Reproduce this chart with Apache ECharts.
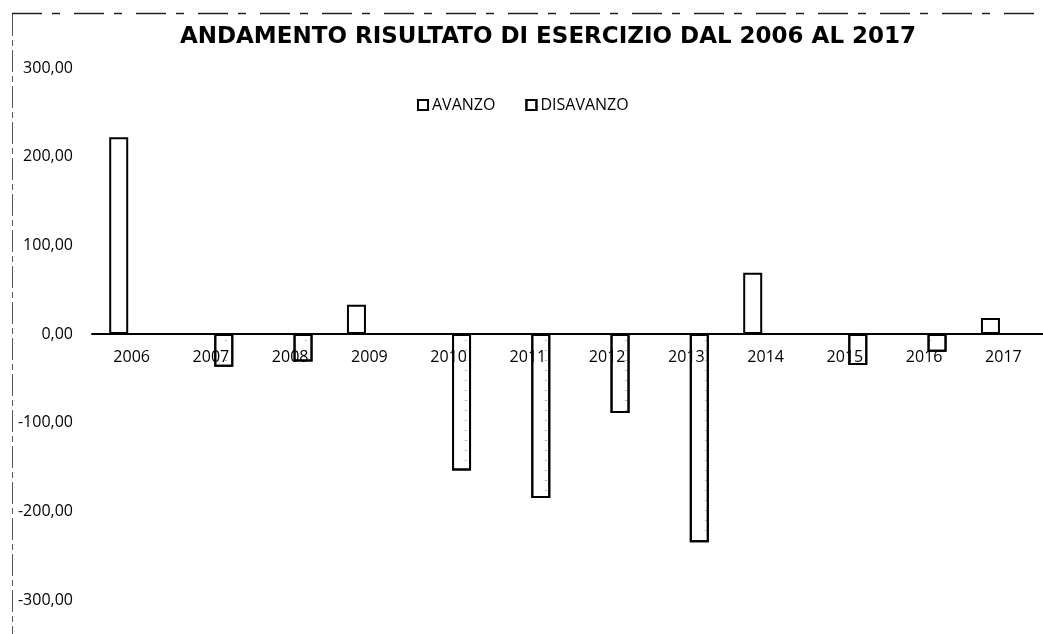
<!DOCTYPE html>
<html>
<head>
<meta charset="utf-8">
<style>
  html, body { margin: 0; padding: 0; background: #fff; }
  #chart { width: 1043px; height: 634px; }
</style>
<script src="https://cdn.jsdelivr.net/npm/echarts@6/dist/echarts.min.js"></script>
</head>
<body>
<div id="chart"></div>
<script>
const titleText = 'ANDAMENTO RISULTATO DI ESERCIZIO DAL 2006 AL 2017';
const categories = ['2006', '2007', '2008', '2009', '2010', '2011', '2012', '2013', '2014', '2015', '2016', '2017'];
const avanzo = [222, null, null, 33, null, null, null, null, 69, null, null, 18];
const disavanzo = [null, -37, -31, null, -154, -185, -89, -235, null, -35, -20, null];
const seriesNames = ['AVANZO', 'DISAVANZO'];
const yMin = -300, yMax = 300, yStep = 100;

const FONT = '"Open Sans", "Liberation Sans", sans-serif';
const GRID = { left: 92, right: -14, top: 68, bottom: 34 };
const gridH = 634 - GRID.top - GRID.bottom;
const zeroOffset = -gridH * (0 - yMin) / (yMax - yMin);

const chart = echarts.init(document.getElementById('chart'), null, { renderer: 'canvas' });

chart.setOption({
  backgroundColor: '#ffffff',
  animation: false,
  title: {
    text: titleText,
    left: 543,
    textAlign: 'center',
    top: 21,
    textStyle: { fontFamily: '"DejaVu Sans", sans-serif', fontSize: 23, fontWeight: 'bold', color: '#000' }
  },
  legend: {
    left: 412,
    top: 92,
    itemWidth: 10,
    itemHeight: 10,
    itemGap: 30,
    icon: 'rect',
    textStyle: { fontFamily: FONT, fontSize: 16, color: '#000', padding: [0, 0, 0, -1] },
    data: seriesNames
  },
  grid: Object.assign({ containLabel: false }, GRID),
  xAxis: {
    type: 'category',
    data: categories,
    offset: zeroOffset,
    axisLine: { onZero: false, lineStyle: { color: '#000', width: 2 } },
    axisTick: { show: false },
    axisLabel: { color: '#000', fontFamily: FONT, fontSize: 16, margin: 15 },
    splitLine: { show: false },
    z: 5
  },
  yAxis: {
    type: 'value',
    min: yMin,
    max: yMax,
    interval: yStep,
    axisLine: { show: false },
    axisTick: { show: false },
    splitLine: { show: false },
    axisLabel: {
      color: '#000', fontFamily: FONT, fontSize: 16, margin: 19,
      formatter: v => v.toFixed(2).replace('.', ',')
    }
  },
  series: [
    {
      name: seriesNames[0],
      type: 'bar',
      data: avanzo,
      barWidth: 19,
      barGap: '36%',
      z: 3,
      itemStyle: { color: '#ffffff', borderColor: '#000', borderWidth: 2 }
    },
    {
      name: seriesNames[1],
      type: 'bar',
      data: disavanzo,
      barWidth: 19,
      barGap: '36%',
      z: 3,
      itemStyle: {
        color: '#ffffff', borderColor: '#000', borderWidth: 2,
        decal: {
          symbol: 'rect', symbolSize: 0.6, dashArrayX: [[4, 12]], dashArrayY: [1, 9],
          rotation: 0, color: 'rgba(0,0,0,0.45)'
        }
      }
    }
  ],
  graphic: [
    {
      type: 'line', silent: true, z: 10,
      shape: { x1: 12.5, y1: 14, x2: 12.5, y2: 634 },
      style: { stroke: '#555', lineWidth: 1, lineDash: [22, 4, 6, 4] }
    },
    {
      type: 'line', silent: true, z: 10,
      shape: { x1: 12, y1: 13.5, x2: 1043, y2: 13.5 },
      style: { stroke: '#222', lineWidth: 1.5, lineDash: [30, 10, 8, 14] }
    }
  ]
});
</script>
</body>
</html>
